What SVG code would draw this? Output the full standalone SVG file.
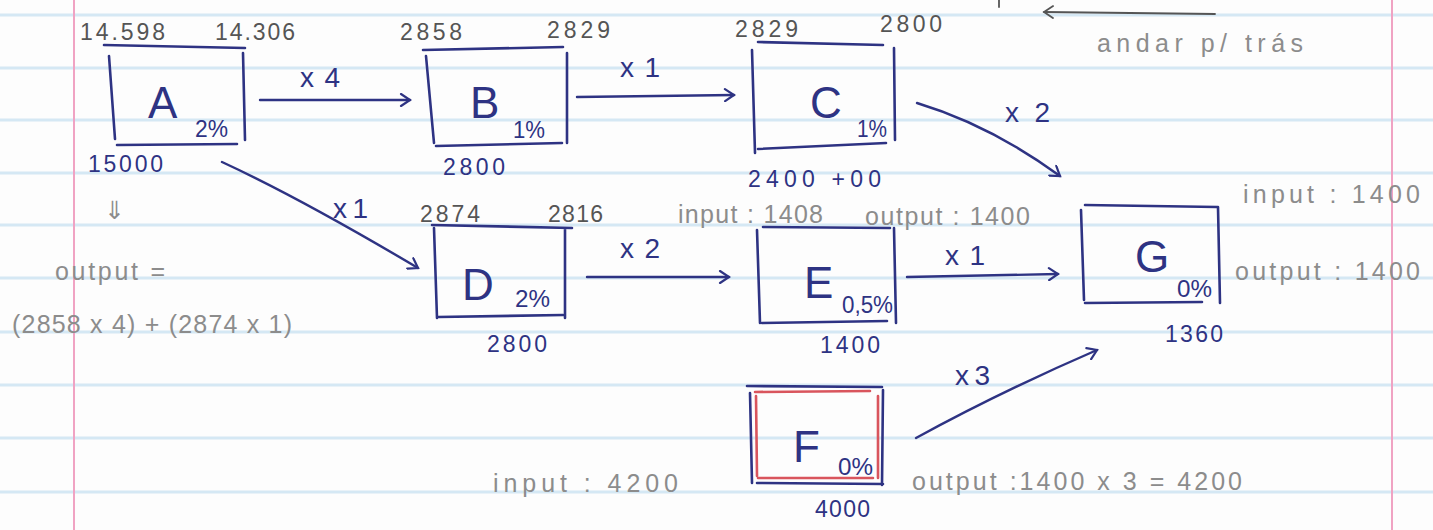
<svg xmlns="http://www.w3.org/2000/svg" width="1433" height="530" viewBox="0 0 1433 530">
<defs>
<style>
.paper{stroke:#d5e8f4;stroke-width:3}
.margin{stroke:#f0a3c3;stroke-width:2}
.ink{fill:none;stroke:#2e3383;stroke-width:2.6;stroke-linecap:round}
.red{fill:none;stroke:#d9555d;stroke-width:2.6;stroke-linecap:round}
.conn{fill:none;stroke:#2e3383;stroke-width:2.4;stroke-linecap:round}
.pen{fill:none;stroke:#555;stroke-width:1.8;stroke-linecap:round}
text{font-family:"Liberation Sans",Arial,sans-serif}
.lbl{fill:#2e3383;font-size:44px}
.pct{fill:#2e3383;font-size:24px}
.bnum{fill:#2e3383;font-size:23px}
.gnum{fill:#555;font-size:23px}
.pencil{fill:#8c8c8c;font-size:25px}
.mult{fill:#2e3383;font-size:28px}
</style>
<marker id="arr" markerWidth="14" markerHeight="14" refX="11" refY="7" orient="auto" markerUnits="userSpaceOnUse">
<path d="M2,1 L11,7 L2,13" fill="none" stroke="#2e3383" stroke-width="2.2" stroke-linecap="round"/>
</marker>
<marker id="arrg" markerWidth="14" markerHeight="14" refX="11" refY="7" orient="auto" markerUnits="userSpaceOnUse">
<path d="M2,1 L11,7 L2,13" fill="none" stroke="#555" stroke-width="1.8" stroke-linecap="round"/>
</marker>
</defs>
<rect width="1433" height="530" fill="#fdfdfd"/>
<g id="paper">
<line class="paper" x1="0" y1="15" x2="1433" y2="15"/>
<line class="paper" x1="0" y1="68" x2="1433" y2="68"/>
<line class="paper" x1="0" y1="120" x2="1433" y2="120"/>
<line class="paper" x1="0" y1="173" x2="1433" y2="173"/>
<line class="paper" x1="0" y1="225" x2="1433" y2="225"/>
<line class="paper" x1="0" y1="278" x2="1433" y2="278"/>
<line class="paper" x1="0" y1="332" x2="1433" y2="332"/>
<line class="paper" x1="0" y1="385" x2="1433" y2="385"/>
<line class="paper" x1="0" y1="438" x2="1433" y2="438"/>
<line class="paper" x1="0" y1="492" x2="1433" y2="492"/>
<line class="margin" x1="74" y1="0" x2="74" y2="530"/>
<line class="margin" x1="1392" y1="0" x2="1392" y2="530"/>
</g>
<g id="node-A">
<path class="ink" d="M104,45 L245,48 M109,56 L115,139 M117,145 L237,144 M243,53 L245,140"/>
<text class="lbl" x="148" y="118">A</text>
<text class="pct" x="195" y="137" textLength="33" lengthAdjust="spacingAndGlyphs">2%</text>
<text class="gnum" x="80" y="40" textLength="85">14.598</text>
<text class="gnum" x="215" y="40" textLength="80">14.306</text>
<text class="bnum" x="88" y="172" textLength="75">15000</text>
</g>
<g id="node-B">
<path class="ink" d="M423,50 L563,47 M426,56 L434,143 M436,146 L562,143 M567,53 L567,143"/>
<text class="lbl" x="470" y="118">B</text>
<text class="pct" x="513" y="138" textLength="32" lengthAdjust="spacingAndGlyphs">1%</text>
<text class="gnum" x="400" y="40" textLength="62">2858</text>
<text class="gnum" x="547" y="38" textLength="63">2829</text>
<text class="bnum" x="443" y="175" textLength="62">2800</text>
</g>
<g id="node-C">
<path class="ink" d="M758,42 L883,45 M752,50 L755,153 M758,149 L886,143 M894,48 L895,140"/>
<text class="lbl" x="810" y="118">C</text>
<text class="pct" x="857" y="137" textLength="30" lengthAdjust="spacingAndGlyphs">1%</text>
<text class="gnum" x="735" y="37" textLength="63">2829</text>
<text class="gnum" x="880" y="32" textLength="62">2800</text>
<text class="bnum" x="748" y="187" textLength="133">2400 +00</text>
</g>
<g id="node-D">
<path class="ink" d="M432,225 L572,228 M434,228 L437,318 M438,317 L563,315 M565,228 L565,318"/>
<text class="lbl" x="462" y="300">D</text>
<text class="pct" x="515" y="307" textLength="35" lengthAdjust="spacingAndGlyphs">2%</text>
<text class="gnum" x="420" y="222" textLength="60">2874</text>
<text class="gnum" x="548" y="222" textLength="55">2816</text>
<text class="bnum" x="487" y="352" textLength="60">2800</text>
</g>
<g id="node-E">
<path class="ink" d="M763,227 L890,228 M757,230 L760,323 M762,323 L887,321 M894,228 L896,323"/>
<text class="lbl" x="804" y="298">E</text>
<text class="pct" x="842" y="313" textLength="51" lengthAdjust="spacingAndGlyphs">0,5%</text>
<text class="pencil" x="678" y="223" textLength="145">input : 1408</text>
<text class="pencil" x="865" y="225" textLength="165">output : 1400</text>
<text class="bnum" x="820" y="353" textLength="60">1400</text>
</g>
<g id="node-G">
<path class="ink" d="M1085,205 L1217,207 M1081,210 L1084,300 M1085,303 L1202,302 M1218,207 L1220,303"/>
<text class="lbl" x="1135" y="272">G</text>
<text class="pct" x="1177" y="297" textLength="35" lengthAdjust="spacingAndGlyphs">0%</text>
<text class="pencil" x="1243" y="203" textLength="177">input : 1400</text>
<text class="pencil" x="1235" y="280" textLength="185">output : 1400</text>
<text class="bnum" x="1165" y="342" textLength="58">1360</text>
</g>
<g id="node-F">
<path class="ink" d="M747,386 L882,387 M750,393 L752,483 M757,483 L883,484 M883,390 L882,485"/>
<path class="red" d="M755,392 L870,391 M756,396 L757,476 M758,478 L873,478 M878,396 L878,478"/>
<text class="lbl" x="793" y="462">F</text>
<text class="pct" x="838" y="475" textLength="35" lengthAdjust="spacingAndGlyphs">0%</text>
<text class="pencil" x="493" y="492" textLength="185">input : 4200</text>
<text class="pencil" x="912" y="490" textLength="330">output :1400 x 3 = 4200</text>
<text class="bnum" x="815" y="517" textLength="55">4000</text>
</g>
<g id="notes">
<text class="pencil" x="104" y="219" font-size="18">⇓</text>
<text class="pencil" x="55" y="280" textLength="110">output =</text>
<text class="pencil" x="12" y="333" textLength="280">(2858 x 4) + (2874 x 1)</text>
<text class="pencil" x="1097" y="52" textLength="206">andar p/ trás</text>
<line class="pen" x1="999" y1="0" x2="999" y2="7"/>
<path class="pen" d="M1215,14 L1130,13 L1044,12" marker-end="url(#arrg)"/>
</g>
<g id="connectors">
<path class="conn" d="M260,100 L410,100" marker-end="url(#arr)"/>
<text class="mult" x="300" y="87" textLength="40">x4</text>
<path class="conn" d="M577,97 L734,95" marker-end="url(#arr)"/>
<text class="mult" x="620" y="77" textLength="40">x1</text>
<path class="conn" d="M917,103 Q990,125 1060,176" marker-end="url(#arr)"/>
<text class="mult" x="1005" y="122" textLength="45">x2</text>
<path class="conn" d="M222,162 Q300,198 418,268" marker-end="url(#arr)"/>
<text class="mult" x="333" y="218" textLength="35">x1</text>
<path class="conn" d="M587,277 L729,277" marker-end="url(#arr)"/>
<text class="mult" x="620" y="258" textLength="40">x2</text>
<path class="conn" d="M907,277 L1058,274" marker-end="url(#arr)"/>
<text class="mult" x="945" y="265" textLength="40">x1</text>
<path class="conn" d="M916,438 Q1000,392 1097,350" marker-end="url(#arr)"/>
<text class="mult" x="955" y="385" textLength="35">x3</text>
</g>
</svg>
